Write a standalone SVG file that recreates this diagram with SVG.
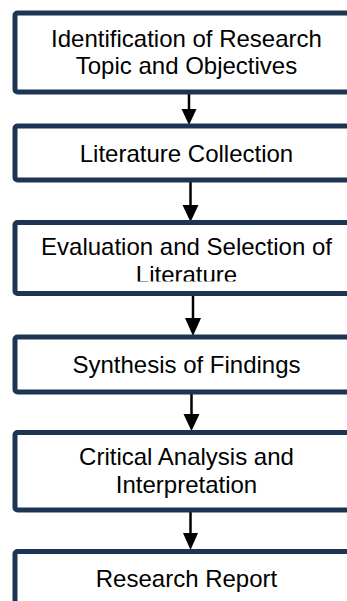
<svg xmlns="http://www.w3.org/2000/svg" width="347" height="601" viewBox="0 0 347 601">
<style>
.box{fill:#ffffff;stroke:#1d3552;stroke-width:5}
.t{font-family:"Liberation Sans",Arial,sans-serif;font-size:24px;fill:#000;text-anchor:middle}
.c{stroke:#000;stroke-width:2.5;fill:none}
.h{fill:#000;stroke:none}
</style>
<defs>
<clipPath id="clip3"><rect x="15" y="222" width="344" height="59.5"/></clipPath>
</defs>
<rect width="347" height="601" fill="#ffffff"/>
<g id="connectors">
<line class="c" x1="189" y1="94" x2="189" y2="110"/><polygon class="h" points="181.5,109 196.5,109 189,125"/>
<line class="c" x1="190.5" y1="182" x2="190.5" y2="206"/><polygon class="h" points="182.5,205 198.5,205 190.5,222"/>
<line class="c" x1="193" y1="296" x2="193" y2="319"/><polygon class="h" points="185,318 201,318 193,336"/>
<line class="c" x1="191.5" y1="394" x2="191.5" y2="415"/><polygon class="h" points="183.5,414 199.5,414 191.5,431"/>
<line class="c" x1="190.5" y1="512" x2="190.5" y2="534"/><polygon class="h" points="183,533 198,533 190.5,550"/>
</g>
<g id="n1"><rect class="box" x="15" y="13" width="344" height="79" rx="2.5"/>
<text class="t" x="186.5" y="46.5">Identification of Research</text>
<text class="t" x="186.5" y="74">Topic and Objectives</text></g>
<g id="n2"><rect class="box" x="15" y="126" width="344" height="54" rx="2.5"/>
<text class="t" x="186.5" y="161.5">Literature Collection</text></g>
<g id="n3"><rect class="box" x="15" y="222.5" width="344" height="71" rx="2.5"/>
<g clip-path="url(#clip3)"><text class="t" x="186.5" y="255">Evaluation and Selection of</text>
<text class="t" x="186.5" y="282.5">Literature</text></g></g>
<g id="n4"><rect class="box" x="15" y="337" width="344" height="55" rx="2.5"/>
<text class="t" x="186.5" y="373">Synthesis of Findings</text></g>
<g id="n5"><rect class="box" x="15" y="432.5" width="344" height="77.5" rx="2.5"/>
<text class="t" x="186.5" y="465">Critical Analysis and</text>
<text class="t" x="186.5" y="493">Interpretation</text></g>
<g id="n6"><rect class="box" x="15" y="551.5" width="344" height="80" rx="2.5"/>
<text class="t" x="186.5" y="586.5">Research Report</text></g>
</svg>
